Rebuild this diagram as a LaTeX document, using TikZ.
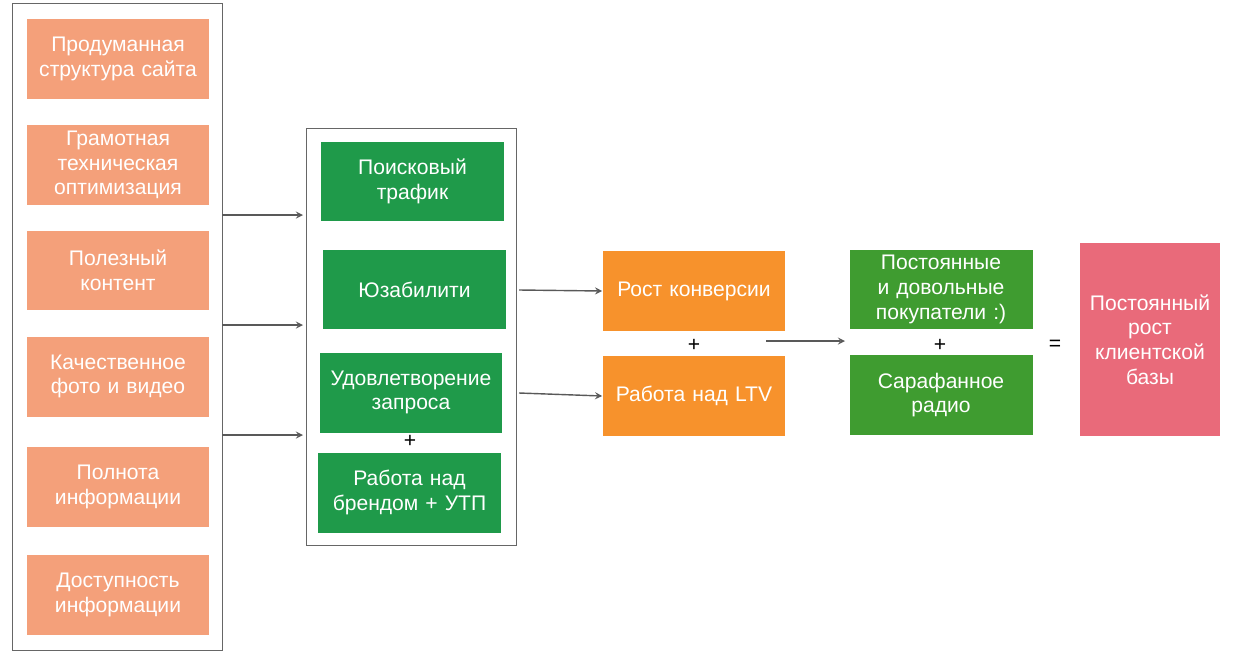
\documentclass[tikz,border=0pt]{standalone}
\usepackage{fontspec}
\setmainfont{Liberation Sans}
\usetikzlibrary{arrows}
\definecolor{salmon}{HTML}{F4A07A}
\definecolor{dgreen}{HTML}{1F9A4A}
\definecolor{lgreen}{HTML}{3F9C30}
\definecolor{orng}{HTML}{F7922C}
\definecolor{pinkish}{HTML}{E96A7A}
\tikzstyle{frame} = [rectangle, draw=black!60, inner sep=0pt]
\tikzstyle{factor} = [rectangle, minimum width=3.66cm, minimum height=1.6cm, text width=3.5cm, align=center, fill=salmon, text=white, font=\large, inner sep=0pt]
\tikzstyle{channel} = [factor, fill=dgreen]
\tikzstyle{result} = [factor, fill=orng]
\tikzstyle{client} = [factor, fill=lgreen]
\tikzstyle{total} = [factor, fill=pinkish, minimum width=2.8cm, text width=2.8cm, minimum height=3.86cm]
\tikzstyle{arrow} = [thick, draw=black!65, ->, >=stealth]
\tikzstyle{sign} = [font=\large]

\begin{document}
\begin{tikzpicture}[x=0.02cm, y=-0.02cm]
\useasboundingbox (0,0) rectangle (1236,656);
\node (lframe) [frame, minimum width=4.2cm, minimum height=12.94cm] at (117,326.5) {};
\node (mframe) [frame, minimum width=4.2cm, minimum height=8.34cm] at (411,336.5) {};

\node (struct) [factor] at (118,59) {Продуманная структура сайта};
\node (tech) [factor] at (118,165) {Грамотная техническая оптимизация};
\node (content) [factor] at (118,270.5) {Полезный контент};
\node (photo) [factor] at (118,376.5) {Качественное фото и видео};
\node (full) [factor] at (118,487) {Полнота информации};
\node (access) [factor] at (118,595) {Доступность информации};

\node (search) [channel] at (412.5,181.5) {Поисковый\\трафик};
\node (usab) [channel] at (414.5,289.5) {Юзабилити};
\node (satisf) [channel] at (411,392.5) {Удовлетворение запроса};
\node (plusA) [sign] at (410,441) {+};
\node (brand) [channel] at (409.5,492.5) {Работа над брендом + УТП};

\node (conv) [result] at (694,291) {Рост конверсии};
\node (plusB) [sign] at (694,345) {+};
\node (ltv) [result] at (694,396) {Работа над LTV};

\node (buyers) [client] at (941,289.5) {Постоянные и довольные покупатели :)};
\node (plusC) [sign] at (940,345) {+};
\node (radio) [client] at (941,395) {Сарафанное радио};

\node (eq) [sign] at (1055,345) {=};
\node (growth) [total] at (1150,339.5) {Постоянный рост клиентской базы};

\coordinate (a1) at (222,215); \coordinate (b1) at (303,215);
\coordinate (a2) at (222,325); \coordinate (b2) at (303,325);
\coordinate (a3) at (222,435); \coordinate (b3) at (303,435);
\coordinate (c1) at (519,290); \coordinate (c2) at (519,393);
\coordinate (d1) at (766,341); \coordinate (e1) at (845,341);

\draw [arrow] (a1) -- (b1);
\draw [arrow] (a2) -- (b2);
\draw [arrow] (a3) -- (b3);
\draw [arrow] (c1) -- (conv.west);
\draw [arrow] (c2) -- (ltv.west);
\draw [arrow] (d1) -- (e1);
\end{tikzpicture}
\end{document}
